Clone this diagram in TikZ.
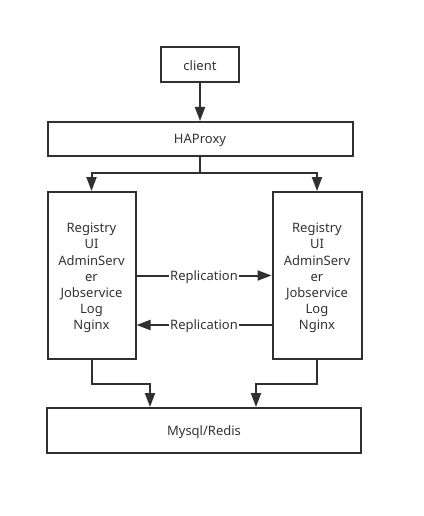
\documentclass[tikz,border=0pt]{standalone}
\usepackage{fontspec}
\setmainfont{Noto Sans}
\usetikzlibrary{arrows.meta}
\definecolor{ln}{HTML}{303030}
\definecolor{tx}{HTML}{333333}
\newcommand{\lowr}[1]{\raisebox{-1.5pt}[\height][\depth]{#1}}
\newcommand{\stacktext}{\raisebox{-2.5pt}[\height][\depth]{\parbox{80pt}{\centering Registry\\UI\\AdminServ\\er\\Jobservice\\Log\\Nginx}}}
\tikzset{
  box/.style={draw=ln, line width=2pt, fill=white, rectangle, inner sep=0pt, text=tx,
    font=\fontsize{13pt}{16.2pt}\selectfont, align=center},
  conn/.style={draw=ln, line width=2pt},
  arr/.style={conn, -{Triangle[length=14pt,width=10pt]}},
  lbl/.style={fill=white, inner sep=1pt, text=tx, font=\fontsize{13pt}{16pt}\selectfont}
}
\begin{document}
\begin{tikzpicture}[x=1pt,y=-1pt]
\useasboundingbox (0,0) rectangle (423,516);
\fill[white] (0,0) rectangle (423,516);
\node[box, minimum width=78pt, minimum height=35pt] (client) at (200,64.5) {\lowr{client}};
\node[box, minimum width=305pt, minimum height=34pt] (hap) at (200,139) {\lowr{HAProxy}};
\node[box, minimum width=88pt, minimum height=167pt] (left) at (91.5,275.5) {\stacktext};
\node[box, minimum width=89pt, minimum height=167pt] (right) at (317,275.5) {\stacktext};
\node[box, minimum width=314pt, minimum height=45pt] (db) at (204,430.5) {\lowr{Mysql/Redis}};
\coordinate (j) at (200,173);
\coordinate (bl) at (150,384);
\coordinate (br) at (256,384);
\draw[arr] (client) -- (hap);
\draw[conn] (hap) -- (j);
\draw[arr] (j) -| (left.north);
\draw[arr] (j) -| (right.north);
\draw[arr] (left.east) -- node[lbl] {\lowr{Replication}} (right.west);
\draw[arr] ([yshift=-49.5pt]right.west) -- node[lbl] {\lowr{Replication}} ([yshift=-49.5pt]left.east);
\draw[arr] (left.south) |- (bl) -- (bl |- db.north);
\draw[arr] (right.south) |- (br) -- (br |- db.north);
\end{tikzpicture}
\end{document}
